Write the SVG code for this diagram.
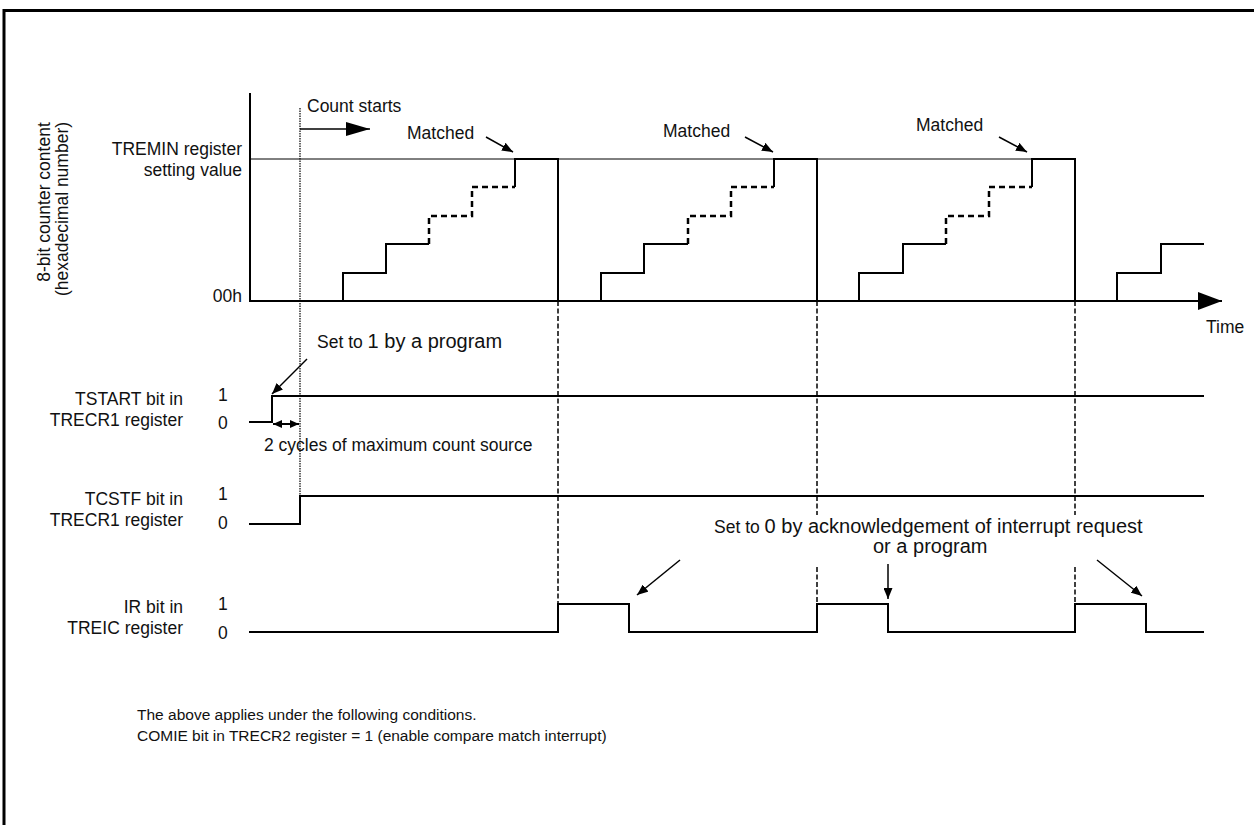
<svg xmlns="http://www.w3.org/2000/svg" width="1254" height="825" viewBox="0 0 1254 825">
<style>
.t{font-family:"Liberation Sans",Arial,sans-serif;font-size:17.5px;fill:#111}
.r{text-anchor:end}
.big{font-size:20px}
.note{font-size:15.5px}
.sig{fill:none;stroke:#000;stroke-width:2}
.thin{fill:none;stroke:#000;stroke-width:1}
.dash{fill:none;stroke:#000;stroke-width:2.5;stroke-dasharray:6 4}
.vdash{fill:none;stroke:#000;stroke-width:1.5;stroke-dasharray:5 2.5}
.dot{fill:none;stroke:#000;stroke-width:1.2;stroke-dasharray:1.5 1}
.arr{fill:none;stroke:#000;stroke-width:1.5;marker-end:url(#ah)}
</style>
<defs>
<marker id="ah" markerUnits="userSpaceOnUse" markerWidth="11" markerHeight="9" refX="11" refY="4.5" orient="auto"><path d="M0,0 L11,4.5 L0,9 z" fill="#000"/></marker>
<marker id="big" markerUnits="userSpaceOnUse" markerWidth="24" markerHeight="14" refX="24" refY="7" orient="auto"><path d="M0,0 L24,7 L0,14 z" fill="#000"/></marker>
<marker id="tarr" markerUnits="userSpaceOnUse" markerWidth="24" markerHeight="18" refX="24" refY="9" orient="auto"><path d="M0,0 L24,9 L0,18 z" fill="#000"/></marker>
<marker id="sm" markerUnits="userSpaceOnUse" markerWidth="9" markerHeight="8" refX="9" refY="4" orient="auto-start-reverse"><path d="M0,0 L9,4 L0,8 z" fill="#000"/></marker>
</defs>
<rect width="1254" height="825" fill="#fff"/>
<path d="M4,825 V10.5 H1254" fill="none" stroke="#000" stroke-width="3"/>

<g id="counter-graph">
<path d="M250,93 V301 H1222" class="sig" marker-end="url(#tarr)"/>
<path d="M250,159 H1075" class="thin"/>
<path d="M343,301 V273 H386 V244 H429" class="sig"/>
<path d="M429,244 V216 H472 V187 H515" class="dash"/>
<path d="M515,187 V159 H558 V301" class="sig"/>
<path d="M601,301 V273 H644 V244 H688" class="sig"/>
<path d="M688,244 V216 H731 V187 H774" class="dash"/>
<path d="M774,187 V159 H817 V301" class="sig"/>
<path d="M859,301 V273 H903 V244 H946" class="sig"/>
<path d="M946,244 V216 H989 V187 H1032" class="dash"/>
<path d="M1032,187 V159 H1075 V301" class="sig"/>
<path d="M1117,301 V273 H1161 V244 H1204" class="sig"/>
<text class="t" transform="translate(50,202) rotate(-90)" text-anchor="middle">8-bit counter content</text>
<text class="t" transform="translate(68,209) rotate(-90)" text-anchor="middle">(hexadecimal number)</text>
<text class="t r" x="242" y="155">TREMIN register</text>
<text class="t r" x="242" y="176">setting value</text>
<text class="t r" x="242" y="302">00h</text>
<text class="t" x="307" y="112">Count starts</text>
<text class="t" x="407" y="139">Matched</text>
<text class="t" x="663" y="137">Matched</text>
<text class="t" x="916" y="131">Matched</text>
<text class="t" x="1206" y="333">Time</text>
</g>

<g id="tstart">
<path d="M249,422 H272 V396 H1204" class="sig"/>
<text class="t r" x="183" y="405">TSTART bit in</text>
<text class="t r" x="183" y="426">TRECR1 register</text>
<text class="t" x="218" y="401">1</text>
<text class="t" x="218" y="429">0</text>
<text class="t" x="317" y="348">Set to <tspan class="big">1 by a program</tspan></text>
<text class="t" x="264" y="451">2 cycles of maximum count source</text>
</g>

<g id="tcstf">
<path d="M249,524 H300 V496 H1204" class="sig"/>
<text class="t r" x="183" y="505">TCSTF bit in</text>
<text class="t r" x="183" y="526">TRECR1 register</text>
<text class="t" x="218" y="500">1</text>
<text class="t" x="218" y="529">0</text>
</g>

<g id="ir">
<path d="M249,632 H558 V604 H629 V632 H817 V604 H888 V632 H1075 V604 H1146 V632 H1204" class="sig"/>
<text class="t r" x="183" y="613">IR bit in</text>
<text class="t r" x="183" y="634">TREIC register</text>
<text class="t" x="218" y="610">1</text>
<text class="t" x="218" y="639">0</text>
<text class="t" x="714" y="533">Set to <tspan class="big">0 by acknowledgement of interrupt request</tspan></text>
<text class="t big" x="873" y="553">or a program</text>
</g>

<g id="connectors">
<path d="M300,108 V496" class="dot"/>
<path d="M558,301 V603 M817,301 V515 M817,567 V603 M1075,301 V515 M1075,567 V603" class="vdash"/>
<path d="M300,129 H370" fill="none" stroke="#000" stroke-width="1.5" marker-end="url(#big)"/>
<path d="M486,137 L513,152" class="arr"/>
<path d="M745,137 L773,152" class="arr"/>
<path d="M999,137 L1027,152" class="arr"/>
<path d="M307,359 L272,394" class="arr"/>
<path d="M273,424 H299" fill="none" stroke="#000" stroke-width="2" marker-start="url(#sm)" marker-end="url(#sm)"/>
<path d="M680,560 L637,595" class="arr"/>
<path d="M888,564 V599" class="arr"/>
<path d="M1097,560 L1142,596" class="arr"/>
</g>

<g id="note">
<text class="t note" x="137" y="720">The above applies under the following conditions.</text>
<text class="t note" x="137" y="741">COMIE bit in TRECR2 register = 1 (enable compare match interrupt)</text>
</g>
</svg>
